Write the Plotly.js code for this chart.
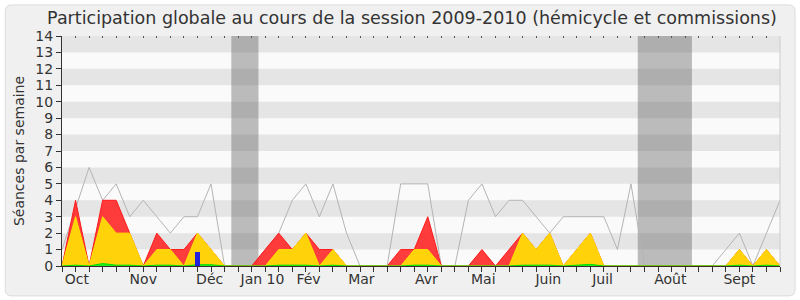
<!DOCTYPE html>
<html>
<head>
<meta charset="utf-8">
<script src="https://cdn.plot.ly/plotly-3.0.1.min.js"></script>
<style>html,body{margin:0;padding:0;background:#fff;}#chart{width:800px;height:300px;}</style>
</head>
<body>
<div id="chart"></div>
<script>
// week index 0..53 (session 2009-2010)
var weeks = [];
for (var k = 0; k <= 53; k++) weeks.push(k);

var seancesTotal = [1,3.5,6,4,5,3,4,3,2,3,3,5,0,0,0,1,2,4,5,3,5,2,0,0,0,5,5,5,0,0,4,5,3,4,4,3,2,3,3,3,3,1,5,0,0,0,0,0,0,1,2,0,2,4];
var presencesTotal = [0,4,0,4,4,2,0,2,1,1,2,1,0,0,0,1,2,1,2,1,1,0,0,0,0,1,1,3,0,0,0,1,0,1,2,1,2,0,1,2,0,0,0,0,0,0,0,0,0,0,1,0,1,0];
var presencesHemicycle = [0,3,0,3,2,2,0,1,1,0,2,1,0,0,0,0,1,1,2,0,1,0,0,0,0,0,1,1,0,0,0,0,0,0,2,1,2,0,1,2,0,0,0,0,0,0,0,0,0,0,1,0,1,0];
var interventions = [0,0.05,0,0.15,0.05,0.05,0,0.05,0.05,0,0.08,0.08,0,0,0,0,0.05,0.05,0.05,0,0.05,0,0,0,0,0,0.05,0.05,0,0,0,0,0,0,0.05,0.05,0.05,0,0.05,0.1,0,0,0,0,0,0,0,0,0,0,0.05,0,0.05,0];
var questionsWeeks = [10];
var questionsValues = [0.85];

var vacances = [[12.5,14.5],[42.5,46.5]];
var monthTickPos = [1.1,6.0,10.9,14.8,18.2,22.1,26.9,31.1,35.9,39.9,44.9,50.0];
var monthTickText = ['Oct','Nov','Déc','Jan 10','Fév','Mar','Avr','Mai','Juin','Juil','Août','Sept'];
var yTicks = [0,1,2,3,4,5,6,7,8,9,10,11,12,13,14];

var FONT = 'DejaVu Sans, sans-serif';

var traces = [
  {x: weeks, y: seancesTotal, type:'scatter', mode:'lines', line:{color:'#b4b4b4', width:1}, hoverinfo:'skip'},
  {x: weeks, y: presencesTotal, type:'scatter', mode:'lines', fill:'tozeroy', fillcolor:'rgba(255,40,40,0.9)', line:{color:'#ff1a1a', width:1}, hoverinfo:'skip'},
  {x: weeks, y: presencesHemicycle, type:'scatter', mode:'lines', fill:'tozeroy', fillcolor:'#ffd20a', line:{color:'#ffe000', width:1}, hoverinfo:'skip'},
  {x: weeks, y: interventions, type:'scatter', mode:'lines', fill:'tozeroy', fillcolor:'#22ee22', line:{color:'#00dd00', width:1}, hoverinfo:'skip'},
  {x: questionsWeeks, y: questionsValues, xaxis:'x2', yaxis:'y', type:'bar', width:0.4, marker:{color:'#2222dd', line:{width:0}}, hoverinfo:'skip'}
];

var shapes = [];
// outer rounded frame
var fx0 = -0.079, fx1 = 1.021, fy0 = -0.130, fy1 = 1.135, rx = 0.009, ry = 0.027;
shapes.push({type:'path', xref:'paper', yref:'paper', layer:'below',
  path: 'M '+(fx0+rx)+' '+fy1+' L '+(fx1-rx)+' '+fy1+' Q '+fx1+' '+fy1+' '+fx1+' '+(fy1-ry)+
        ' L '+fx1+' '+(fy0+ry)+' Q '+fx1+' '+fy0+' '+(fx1-rx)+' '+fy0+
        ' L '+(fx0+rx)+' '+fy0+' Q '+fx0+' '+fy0+' '+fx0+' '+(fy0+ry)+
        ' L '+fx0+' '+(fy1-ry)+' Q '+fx0+' '+fy1+' '+(fx0+rx)+' '+fy1+' Z',
  fillcolor:'#f0f0f0', line:{color:'#dcdcdc', width:1}});
// plot background
shapes.push({type:'rect', xref:'paper', yref:'paper', x0:0, x1:1, y0:0, y1:1, layer:'below', fillcolor:'#fafafa', line:{width:0}});
// stripes
for (var s = 1; s < 14; s += 2) {
  shapes.push({type:'rect', xref:'paper', yref:'y', x0:0, x1:1, y0:s, y1:s+1, layer:'below', fillcolor:'#e5e5e5', line:{width:0}});
}
// vacation bands
vacances.forEach(function(v){
  shapes.push({type:'rect', xref:'x', yref:'paper', x0:v[0], x1:v[1], y0:0, y1:1, layer:'below', fillcolor:'rgba(84,84,84,0.38)', line:{width:0}});
});
// right border
shapes.push({type:'line', xref:'paper', yref:'paper', x0:1, x1:1, y0:0, y1:1, line:{color:'#cccccc', width:1}});

var layout = {
  width:800, height:300,
  margin:{l:62, r:20, t:36, b:34, pad:0},
  paper_bgcolor:'#ffffff',
  plot_bgcolor:'rgba(0,0,0,0)',
  showlegend:false,
  bargap:0,
  font:{family:FONT, color:'#333333', size:14},
  title:{text:'Participation globale au cours de la session 2009-2010 (hémicycle et commissions)', font:{family:FONT, size:17.5, color:'#333333'}, x:0.515, xanchor:'center', y:0.94, yanchor:'middle'},
  xaxis:{range:[0,53], showgrid:false, zeroline:false, showline:true, linecolor:'#3a2a2a', linewidth:1,
    tickmode:'array', tickvals:monthTickPos, ticktext:monthTickText, ticks:'', tickfont:{size:14, family:FONT, color:'#333333'},
    minor:{tickmode:'linear', tick0:0, dtick:1, ticks:'outside', ticklen:5, tickcolor:'#333333', tickwidth:1, showgrid:false},
    fixedrange:true},
  xaxis2:{range:[0,53], overlaying:'x', side:'top', showgrid:false, zeroline:false, showline:false, showticklabels:false,
    tickmode:'linear', tick0:0, dtick:1, ticks:'inside', ticklen:2, tickcolor:'#555555', tickwidth:1},
  yaxis:{range:[0,14], showgrid:false, zeroline:false, showline:true, linecolor:'#333333', linewidth:1,
    tickmode:'array', tickvals:yTicks, ticks:'outside', ticklen:5, tickcolor:'#333333',
    tickfont:{size:14, family:FONT, color:'#333333'},
    title:{text:'Séances par semaine', font:{size:14, family:FONT, color:'#333333'}, standoff:7},
    fixedrange:true},
  shapes: shapes
};

Plotly.newPlot('chart', traces, layout, {staticPlot:true, displayModeBar:false});
</script>
</body>
</html>
